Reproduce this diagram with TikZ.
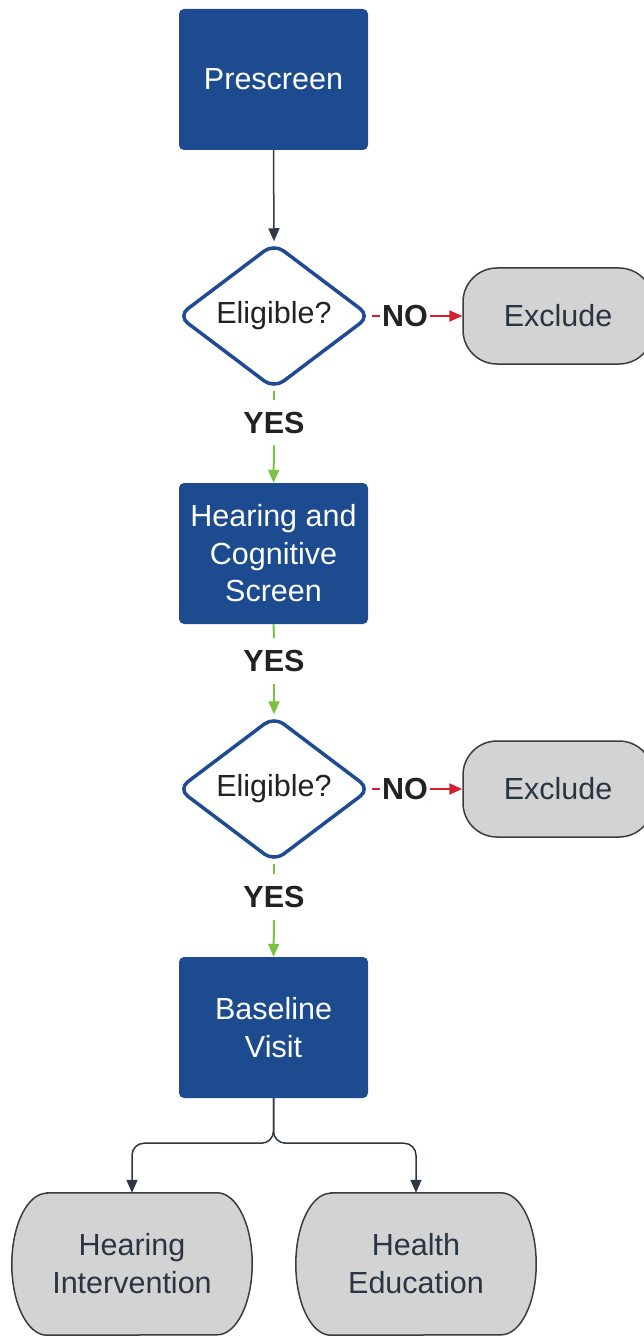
\documentclass[tikz,border=0pt]{standalone}
\usepackage{fontspec}
\setmainfont{Liberation Sans}
\usetikzlibrary{arrows.meta,shapes.geometric}
\pgfdeclarelayer{background}
\pgfsetlayers{background,main}
\definecolor{boxblue}{HTML}{1D4B8F}
\definecolor{diablue}{HTML}{1F4B93}
\definecolor{termgray}{HTML}{D3D3D3}
\definecolor{termedge}{HTML}{3C3C3C}
\definecolor{termtext}{HTML}{2B3442}
\definecolor{noRed}{HTML}{D2202F}
\definecolor{yesGreen}{HTML}{7CC242}
\definecolor{connGray}{HTML}{2F3744}
\definecolor{lbltext}{HTML}{222222}
\tikzset{
  bluebox/.style={rectangle, fill=boxblue, rounded corners=5pt, minimum width=189pt, minimum height=141pt,
    text=white, align=center, font=\fontsize{30.5}{37.5}\selectfont, inner sep=0pt},
  decision/.style={diamond, draw=diablue, line width=3.5pt, fill=white, rounded corners=12pt, aspect=1.333,
    minimum width=193pt, minimum height=146pt, inner sep=0pt, font=\fontsize{30.5}{36}\selectfont, text=lbltext},
  excl/.style={rectangle, draw=termedge, line width=1.5pt, fill=termgray, rounded corners=34pt,
    minimum width=190pt, minimum height=96pt, font=\fontsize{30.5}{36}\selectfont, text=termtext},
  termbox/.style={rectangle, minimum width=240pt, minimum height=142pt, inner sep=0pt, align=center,
    font=\fontsize{30.5}{38}\selectfont, text=termtext},
  termline/.style={draw=termedge, line width=1.5pt, fill=termgray},
  lbl/.style={font=\bfseries\fontsize{30.5}{36}\selectfont, text=lbltext, text height=21.5pt, text depth=0pt,
    inner xsep=2pt, inner ysep=12pt},
  tip/.style={-{Triangle[length=13pt,width=11pt]}},
  conn/.style={draw=connGray, line width=1.5pt},
  yesline/.style={draw=yesGreen, line width=2pt},
  noline/.style={draw=noRed, line width=2pt},
}
\begin{document}
\begin{tikzpicture}[x=1pt,y=-1pt]
\useasboundingbox (0,0) rectangle (644,1337);
\clip (0,0) rectangle (644,1337);

\node[bluebox] (pre) at (273.5,79.5) {Prescreen};
\node[decision] (d1) at (274,316) {Eligible?};
\node[lbl] (no1) at (405,316) {NO};
\node[excl] (ex1) at (558,316) {Exclude};
\node[lbl] (yes1) at (274,422.5) {YES};
\node[bluebox] (hcs) at (273.5,553.5) {Hearing and\\Cognitive\\Screen};
\node[lbl] (yes2) at (274,661) {YES};
\node[decision] (d2) at (274,789) {Eligible?};
\node[lbl] (no2) at (405,789) {NO};
\node[excl] (ex2) at (558,789) {Exclude};
\node[lbl] (yes3) at (274,897) {YES};
\node[bluebox] (base) at (273.5,1027.5) {Baseline\\Visit};
\node[termbox] (hi) at (132,1264) {Hearing\\Intervention};
\node[termbox] (he) at (416,1264) {Health\\Education};

\begin{pgfonlayer}{background}
\foreach \n in {hi,he}{
  \draw[termline] ([xshift=35pt]\n.north west) -- ([xshift=-35pt]\n.north east)
    arc[start angle=-90, end angle=90, x radius=35, y radius=71]
    -- ([xshift=35pt]\n.south west)
    arc[start angle=90, end angle=270, x radius=35, y radius=71] -- cycle;
}
\end{pgfonlayer}

\draw[conn, tip] (pre.south) -- (d1.north);

\draw[noline] (d1.east) -- (no1.west);
\draw[noline, tip] (no1.east) -- (ex1.west);
\draw[noline] (d2.east) -- (no2.west);
\draw[noline, tip] (no2.east) -- (ex2.west);

\draw[yesline] (d1.south) -- (yes1.north);
\draw[yesline, tip] (yes1.south) -- (hcs.north);
\draw[yesline] (hcs.south) -- (yes2.north);
\draw[yesline, tip] (yes2.south) -- (d2.north);
\draw[yesline] (d2.south) -- (yes3.north);
\draw[yesline, tip] (yes3.south) -- (base.north);

\draw[conn, tip, rounded corners=12pt] (base.south) -- ++(0,45) -| (hi.north);
\draw[conn, tip, rounded corners=12pt] (base.south) -- ++(0,45) -| (he.north);
\end{tikzpicture}
\end{document}
